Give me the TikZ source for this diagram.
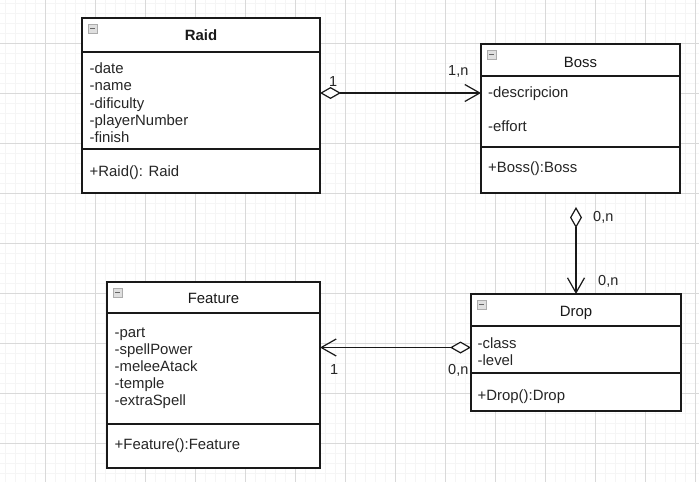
\documentclass[tikz,border=0pt]{standalone}
\usepackage{fontspec}
\setmainfont{Liberation Sans}
\usetikzlibrary{arrows.meta,calc}
\begin{document}
\begin{tikzpicture}[x=1pt,y=-1pt,
  classbox/.style={draw=black!90, line width=1.2pt, fill=white, inner sep=0pt, outer sep=0pt},
  txt/.style={anchor=base west, inner sep=0pt, font=\fontsize{14.9pt}{17pt}\selectfont, text=black!85},
  ttl/.style={anchor=base, inner sep=0pt, font=\fontsize{14.9pt}{17pt}\selectfont, text=black!90},
  lbl/.style={anchor=base west, inner sep=0pt, font=\fontsize{14.5pt}{17pt}\selectfont, text=black!85},
  agg/.style={draw=black!90, line width=1.2pt, {Diamond[open,fill=white,length=21pt,width=12pt]}-{Straight Barb[length=15pt,width=17pt]}},
  divider/.style={draw=black!90, line width=1.2pt},
  iconbox/.style={draw=gray!65, fill=gray!25, line width=0.6pt},
  iconbar/.style={draw=black!60, line width=1.2pt},
  minor/.style={draw=black!4, line width=0.6pt},
  major/.style={draw=black!15, line width=0.8pt},
]
\useasboundingbox (0,0) rectangle (699,482);
\fill[white] (0,0) rectangle (699,482);
\foreach \x in {5,15,...,695} \draw[minor] (\x,0) -- (\x,482);
\foreach \y in {3,13,...,473} \draw[minor] (0,\y) -- (699,\y);
\foreach \x in {45,95,...,695} \draw[major] (\x,0) -- (\x,482);
\foreach \y in {43,93,...,443} \draw[major] (0,\y) -- (699,\y);

% Raid
\node[classbox, minimum width=238pt, minimum height=175pt] (raid) at (201,105.5) {};
\draw[divider] (raid.west |- 0,52) -- (raid.east |- 0,52);
\draw[divider] (raid.west |- 0,149) -- (raid.east |- 0,149);
\draw[iconbox] ([shift={(6,6)}]raid.north west) rectangle ++(9,9);
\draw[iconbar] ([shift={(8,10.5)}]raid.north west) -- ++(5,0);
\node[ttl] (raidt) at (raid.center |- 0,40.5) {\bfseries Raid};
\foreach \t [count=\i] in {-date,-name,-dificulty,-playerNumber,-finish}
  \node[txt] (raida\i) at (89.5,{73.5+17.3*(\i-1)}) {\t};
\node[txt] (raidm) at (89.5,176) {+Raid(): Raid};

% Boss
\node[classbox, minimum width=199pt, minimum height=149pt] (boss) at (580.5,118.5) {};
\draw[divider] (boss.west |- 0,76) -- (boss.east |- 0,76);
\draw[divider] (boss.west |- 0,147) -- (boss.east |- 0,147);
\draw[iconbox] ([shift={(6,6)}]boss.north west) rectangle ++(9,9);
\draw[iconbar] ([shift={(8,10.5)}]boss.north west) -- ++(5,0);
\node[ttl] (bosst) at (boss.center |- 0,67) {Boss};
\node[txt] (bossa1) at (488,97.5) {-descripcion};
\node[txt] (bossa2) at (488,131.5) {-effort};
\node[txt] (bossm) at (488,172.5) {+Boss():Boss};

% Drop
\node[classbox, minimum width=210pt, minimum height=117pt] (drop) at (576,352.5) {};
\draw[divider] (drop.west |- 0,326) -- (drop.east |- 0,326);
\draw[divider] (drop.west |- 0,373) -- (drop.east |- 0,373);
\draw[iconbox] ([shift={(6,6)}]drop.north west) rectangle ++(9,9);
\draw[iconbar] ([shift={(8,10.5)}]drop.north west) -- ++(5,0);
\node[ttl] (dropt) at (drop.center |- 0,316) {Drop};
\node[txt] (dropa1) at (477.5,348) {-class};
\node[txt] (dropa2) at (477.5,365.5) {-level};
\node[txt] (dropm) at (477.5,400) {+Drop():Drop};

% Feature
\node[classbox, minimum width=213pt, minimum height=186pt] (feature) at (213.5,375) {};
\draw[divider] (feature.west |- 0,313) -- (feature.east |- 0,313);
\draw[divider] (feature.west |- 0,424) -- (feature.east |- 0,424);
\draw[iconbox] ([shift={(6,6)}]feature.north west) rectangle ++(9,9);
\draw[iconbar] ([shift={(8,10.5)}]feature.north west) -- ++(5,0);
\node[ttl] (featuret) at (feature.center |- 0,303) {Feature};
\foreach \t [count=\i] in {-part,-spellPower,-meleeAtack,-temple,-extraSpell}
  \node[txt] (featurea\i) at (114.5,{337+17.2*(\i-1)}) {\t};
\node[txt] (featurem) at (114.5,449) {+Feature():Feature};

% connectors
\coordinate (rb) at (0,93);
\draw[agg] (raid.east |- rb) -- (boss.west |- rb);
\coordinate (bd) at (0,207);
\draw[agg] (drop.north |- bd) -- (drop.north);
\coordinate (df) at (0,347.5);
\draw[agg] (drop.west |- df) -- (feature.east |- df);

% multiplicities
\node[lbl] (l1) at (329,86) {1};
\node[lbl] (l2) at (448,75) {1,n};
\node[lbl] (l3) at (593,221) {0,n};
\node[lbl] (l4) at (598,285) {0,n};
\node[lbl] (l5) at (330,374) {1};
\node[lbl] (l6) at (448,374) {0,n};
\end{tikzpicture}
\end{document}
